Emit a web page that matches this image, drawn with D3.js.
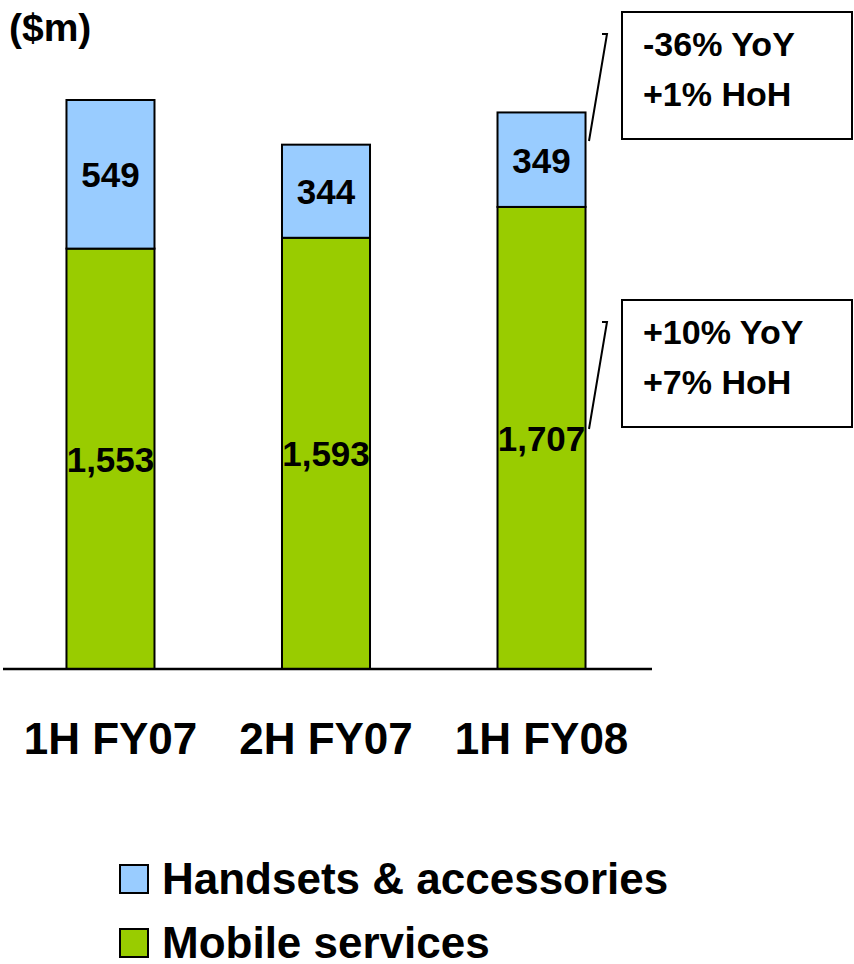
<!DOCTYPE html>
<html>
<head>
<meta charset="utf-8">
<script src="https://cdn.jsdelivr.net/npm/d3@7"></script>
<style>
  body { margin: 0; background: #fff; }
  text { font-family: "Liberation Sans", Arial, sans-serif; font-weight: bold; fill: #000; }
</style>
</head>
<body>
<script>
// data
var periods = ["1H FY07", "2H FY07", "1H FY08"];
var mobileServices = [1553, 1593, 1707];
var handsets = [549, 344, 349];
var seriesNames = ["Handsets & accessories", "Mobile services"];
var handsetNotes = ["-36% YoY", "+1% HoH"];
var serviceNotes = ["+10% YoY", "+7% HoH"];

var width = 854,
    height = 964;

var svg = d3.select("body").append("svg")
    .attr("width", width)
    .attr("height", height);

var rows = periods.map(function(p, i) {
    return { period: p, services: mobileServices[i], handsets: handsets[i] };
});

var stack = d3.stack().keys(["services", "handsets"]);
var layers = stack(rows);

var x = d3.scaleBand()
    .domain(periods)
    .range([1, 651])
    .paddingInner(0.5916)
    .paddingOuter(0.3038);

var y = d3.scaleLinear()
    .domain([0, d3.max(rows, function(d) { return d.services + d.handsets; })])
    .range([669, 100]);

var colours = { services: "#99CC00", handsets: "#99CCFF" };

// unit label
svg.append("text")
    .attr("x", 9)
    .attr("y", 41)
    .style("font-size", "39px")
    .text("($m)");

// bars
var groups = svg.selectAll(".layer").data(layers)
    .enter().append("g")
    .attr("class", "layer")
    .attr("fill", function(d) { return colours[d.key]; });

groups.selectAll("rect").data(function(d) { return d; })
    .enter().append("rect")
    .attr("x", function(d) { return x(d.data.period); })
    .attr("y", function(d) { return y(d[1]); })
    .attr("width", x.bandwidth())
    .attr("height", function(d) { return y(d[0]) - y(d[1]); })
    .attr("stroke", "#000")
    .attr("stroke-width", 2);

// value labels
groups.selectAll(".val").data(function(d) { return d; })
    .enter().append("text")
    .attr("class", "val")
    .attr("x", function(d) { return x(d.data.period) + x.bandwidth() / 2; })
    .attr("y", function(d) { return (y(d[0]) + y(d[1])) / 2 + 13; })
    .attr("text-anchor", "middle")
    .style("font-size", "35px")
    .text(function(d) { return d3.format(",")(d[1] - d[0]); });

// baseline
svg.append("line")
    .attr("x1", 3).attr("x2", 652)
    .attr("y1", y(0)).attr("y2", y(0))
    .attr("stroke", "#000")
    .attr("stroke-width", 2.5);

// category labels
svg.selectAll(".cat").data(periods)
    .enter().append("text")
    .attr("class", "cat")
    .attr("x", function(d) { return x(d) + x.bandwidth() / 2; })
    .attr("y", 754)
    .attr("text-anchor", "middle")
    .style("font-size", "44px")
    .text(function(d) { return d; });

// annotation boxes
function note(lines, top) {
    svg.append("rect")
        .attr("x", 622).attr("y", top)
        .attr("width", 230).attr("height", 127)
        .attr("fill", "#fff")
        .attr("stroke", "#000")
        .attr("stroke-width", 2);
    svg.append("path")
        .attr("d", "M602," + (top + 22) + "H607L589," + (top + 129))
        .attr("fill", "none")
        .attr("stroke", "#000")
        .attr("stroke-width", 2);
    lines.forEach(function(t, i) {
        svg.append("text")
            .attr("x", 643)
            .attr("y", top + 44 + i * 50)
            .style("font-size", "34px")
            .text(t);
    });
}
note(handsetNotes, 12);
note(serviceNotes, 300);

// legend
var legendKeys = ["handsets", "services"];
var legend = svg.selectAll(".legend").data(seriesNames)
    .enter().append("g")
    .attr("class", "legend")
    .attr("transform", function(d, i) { return "translate(120," + (865 + i * 64) + ")"; });

legend.append("rect")
    .attr("width", 28).attr("height", 28)
    .attr("fill", function(d, i) { return colours[legendKeys[i]]; })
    .attr("stroke", "#000")
    .attr("stroke-width", 2);

legend.append("text")
    .attr("x", 42)
    .attr("y", 29)
    .style("font-size", "44px")
    .text(function(d) { return d; });
</script>
</body>
</html>
